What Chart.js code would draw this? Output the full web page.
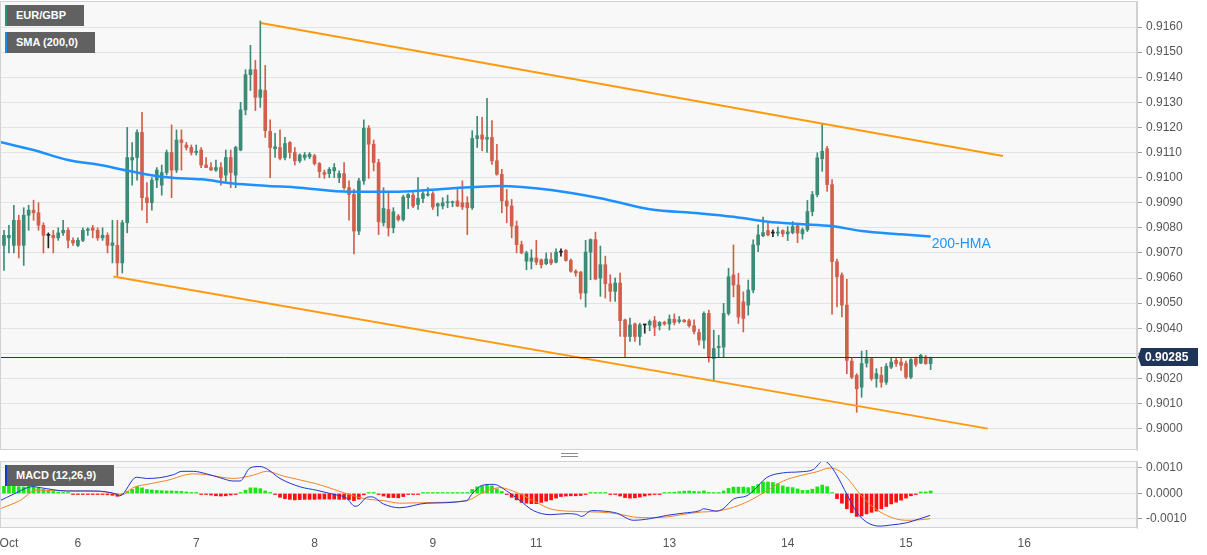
<!DOCTYPE html>
<html><head><meta charset="utf-8">
<script src="https://cdn.jsdelivr.net/npm/chart.js@4.4.1/dist/chart.umd.min.js"></script>
<style>
html,body{margin:0;padding:0;background:#fff;width:1207px;height:555px;overflow:hidden;font-family:"Liberation Sans",Arial,sans-serif;}
#mainBox{position:absolute;left:0;top:0;width:1207px;height:451px;}
#macdBox{position:absolute;left:0;top:456px;width:1207px;height:99px;}
.lab{position:absolute;left:5px;height:21px;line-height:21px;box-sizing:border-box;background:#616161;color:#fff;font-size:11px;font-weight:bold;padding-left:9px;white-space:nowrap;}
#sep{position:absolute;left:561px;top:453px;width:17px;height:2px;border-top:1px solid #8a8a8a;border-bottom:1px solid #8a8a8a;}
</style>
</head><body>
<div id="mainBox"><canvas id="main"></canvas></div>
<div id="macdBox"><canvas id="macd"></canvas></div>
<div id="sep"></div>
<div class="lab" style="top:5px;width:79px;border-left:2px solid #2f8f78;">EUR/GBP</div>
<div class="lab" style="top:32px;width:90px;border-left:2px solid #1e88e5;">SMA (200,0)</div>
<div class="lab" style="top:465px;width:109px;border-left:2px solid #1536c8;">MACD (12,26,9)</div>
<script>
// ---------- DATA ----------
const dayTickPos = [2,16,40,64,88,109,136,160,184,208];
const dayLabels  = ['Oct','6','7','8','9','11','13','14','15','16'];
const priceTicks = [0.9000,0.9010,0.9020,0.9030,0.9040,0.9050,0.9060,0.9070,0.9080,0.9090,0.9100,0.9110,0.9120,0.9130,0.9140,0.9150,0.9160];
const macdTicks  = [-0.0010,0.0000,0.0010];
const currentPrice = 0.90285;

const opens = [
0.9075,0.9073,0.9076,0.9073,0.9083,0.9073,0.9085,0.9087,0.9086,0.9081,
0.9077,0.9077,0.9076,0.9078,0.9079,0.9075,0.9073,0.9075,0.9079,0.9080,
0.9079,0.9076,0.9077,0.9073,0.9073,0.9066,0.9082,0.9107,0.9108,0.9118,
0.9092,0.9090,0.9099,0.9097,0.9102,0.9110,0.9103,0.9115,0.9113,0.9112,
0.9110,0.9111,0.9105,0.9104,0.9103,0.9104,0.9101,0.9108,0.9101,0.9111,
0.9127,0.9141,0.9143,0.9132,0.91347,0.91184,0.91115,0.9112,0.9108,0.9114,
0.9110,0.91067,0.9108,0.91083,0.91087,0.91056,0.9102,0.91016,0.91027,0.9100,
0.91016,0.9096,0.90933,0.90787,0.90987,0.91197,0.91133,0.9106,0.9082,0.90873,
0.9080,0.90847,0.90833,0.9092,0.9093,0.90893,0.90917,0.9093,0.90936,0.90887,
0.90887,0.9090,0.9090,0.90907,0.9090,0.9090,0.9088,0.91156,0.9117,0.91153,
0.9116,0.91067,0.91013,0.90907,0.90887,0.90807,0.90733,0.90667,0.90667,0.9068,
0.90673,0.90657,0.90673,0.90663,0.90703,0.9071,0.9067,0.90627,0.90623,0.9054,
0.90703,0.90753,0.9060,0.90653,0.90577,0.90547,0.9058,0.90433,0.90367,0.90417,
0.90367,0.90413,0.90413,0.9043,0.9041,0.90423,0.90417,0.90436,0.90427,0.90432,
0.9043,0.9041,0.90383,0.90352,0.90459,0.90279,0.90323,0.90325,0.90459,0.90612,
0.90572,0.90505,0.90492,0.90552,0.90732,0.90768,0.90789,0.90779,0.90779,0.90789,
0.90776,0.90781,0.90808,0.90776,0.90792,0.90865,0.90932,0.91075,0.91115,0.90972,
0.90665,0.90612,0.90492,0.90269,0.90212,0.90165,0.90261,0.90279,0.90199,0.90212,
0.90185,0.90245,0.90272,0.90265,0.90259,0.90205,0.90279,0.90261,0.90285,0.90259];

const highs = [
0.9077,0.9079,0.9081,0.9089,0.9085,0.9088,0.9089,0.9091,0.9090,0.9082,
0.9078,0.9079,0.9080,0.9083,0.9080,0.9076,0.9076,0.9080,0.9080,0.9081,
0.9080,0.9080,0.9078,0.9083,0.9083,0.9083,0.9120,0.9114,0.9119,0.9126,
0.9098,0.9100,0.9104,0.9105,0.9111,0.9121,0.9119,0.9119,0.9114,0.9113,
0.9113,0.9112,0.9108,0.9106,0.9107,0.9106,0.9111,0.9111,0.91125,0.9130,
0.9143,0.91527,0.91467,0.91624,0.91447,0.9123,0.91176,0.9119,0.9116,0.91144,
0.9112,0.91095,0.9110,0.9110,0.91093,0.9106,0.9103,0.9104,0.91056,0.91027,
0.9106,0.90987,0.90953,0.90997,0.9123,0.91207,0.9115,0.91073,0.9096,0.90944,
0.9088,0.90853,0.9093,0.90936,0.9094,0.9100,0.90944,0.9096,0.90944,0.90899,
0.9092,0.9093,0.90907,0.90953,0.90987,0.90924,0.91187,0.91244,0.9124,0.91316,
0.91227,0.91133,0.91033,0.90953,0.90913,0.90827,0.90747,0.90707,0.90713,0.9075,
0.90676,0.9070,0.9070,0.90716,0.90716,0.90713,0.90676,0.90633,0.90627,0.9075,
0.90756,0.90783,0.90727,0.90687,0.90613,0.9060,0.9062,0.90436,0.9044,0.9042,
0.9042,0.90416,0.90433,0.90447,0.90427,0.90428,0.90453,0.90457,0.90447,0.90435,
0.90436,0.90433,0.90396,0.90465,0.90472,0.90392,0.90372,0.90499,0.90639,0.90732,
0.90619,0.90545,0.90592,0.90752,0.90812,0.90843,0.90819,0.90792,0.90803,0.90792,
0.90805,0.90825,0.90812,0.90799,0.90909,0.90945,0.91099,0.91216,0.91125,0.90992,
0.90675,0.90621,0.90595,0.90283,0.90219,0.90309,0.90312,0.90283,0.90239,0.90245,
0.90259,0.90283,0.90283,0.90279,0.90269,0.90279,0.90285,0.90296,0.90292,0.90285];

const lows = [
0.9058,0.9063,0.9070,0.9070,0.9068,0.9065,0.9079,0.9083,0.9079,0.9070,
0.9072,0.9070,0.9075,0.9077,0.9072,0.9073,0.90725,0.90745,0.9077,0.9076,
0.9075,0.9075,0.9070,0.9066,0.9061,0.9062,0.9078,0.9097,0.9099,0.9087,
0.9082,0.9087,0.9096,0.9093,0.9101,0.9092,0.9102,0.9103,0.9111,0.9109,
0.9109,0.9104,0.9104,0.9103,0.91025,0.9097,0.9098,0.9096,0.9096,0.91107,
0.9125,0.91347,0.91267,0.9128,0.9116,0.9100,0.9108,0.9107,0.9107,0.91077,
0.9105,0.9106,0.9107,0.91075,0.9105,0.9100,0.90997,0.9100,0.9100,0.9098,
0.90953,0.9083,0.90696,0.90773,0.90973,0.90997,0.91027,0.90773,0.90807,0.90767,
0.9078,0.90827,0.90827,0.90876,0.9088,0.90873,0.9090,0.90926,0.90873,0.90847,
0.90875,0.9088,0.90884,0.90884,0.90873,0.90773,0.90873,0.9112,0.91107,0.9110,
0.91053,0.9101,0.9086,0.9082,0.9076,0.9070,0.90697,0.90633,0.90636,0.90653,
0.9064,0.90653,0.90653,0.9066,0.90687,0.90667,0.90623,0.90607,0.90516,0.90484,
0.90593,0.90593,0.90527,0.9052,0.90507,0.90507,0.90367,0.90287,0.90347,0.90347,
0.90333,0.9038,0.9039,0.9037,0.90393,0.90412,0.90393,0.90413,0.9042,0.90423,
0.90404,0.90377,0.90333,0.90319,0.90265,0.90192,0.90285,0.90285,0.90452,0.90525,
0.90419,0.90385,0.90452,0.90541,0.90705,0.90765,0.90768,0.90765,0.90768,0.90765,
0.90749,0.90776,0.90741,0.90755,0.90785,0.90848,0.90923,0.91025,0.90945,0.90456,
0.90485,0.90445,0.90219,0.90199,0.90065,0.90125,0.90245,0.90192,0.90165,0.90165,
0.90176,0.90239,0.90248,0.90232,0.90199,0.90199,0.90248,0.90259,0.90256,0.90235];

const closes = [
0.9070,0.9077,0.9077,0.9083,0.9073,0.9085,0.9087,0.9086,0.9081,0.9077,
0.9077,0.9076,0.9078,0.9079,0.9075,0.9074,0.9075,0.9079,0.90795,0.9079,
0.9076,0.9077,0.9073,0.9074,0.9066,0.9082,0.9108,0.9108,0.9118,0.9092,
0.9090,0.9099,0.9103,0.9102,0.9110,0.9103,0.9115,0.9114,0.9112,0.9110,
0.91105,0.9105,0.9104,0.9103,0.9104,0.9100,0.9108,0.9102,0.9112,0.9127,
0.9141,0.9143,0.9132,0.9135,0.91187,0.9112,0.91123,0.91077,0.91136,0.9110,
0.91067,0.9109,0.9109,0.91093,0.91056,0.91024,0.91013,0.91033,0.9104,0.91016,
0.9096,0.90933,0.90787,0.90987,0.91197,0.91133,0.9106,0.90824,0.90877,0.9080,
0.90864,0.90833,0.90923,0.90933,0.90887,0.90917,0.90936,0.90933,0.90883,0.90896,
0.9090,0.90901,0.90903,0.90887,0.90883,0.9088,0.91156,0.91167,0.91153,0.9116,
0.91067,0.91013,0.90907,0.90887,0.90807,0.90733,0.9070,0.9070,0.9068,0.90663,
0.90653,0.90676,0.9066,0.90703,0.90703,0.9067,0.90627,0.9062,0.9054,0.90703,
0.90753,0.90596,0.90653,0.90577,0.90547,0.9058,0.9043,0.90367,0.90413,0.90367,
0.90413,0.90413,0.90427,0.90404,0.90423,0.90417,0.90436,0.90423,0.90433,0.90426,
0.9041,0.90387,0.90353,0.90459,0.90285,0.90319,0.90328,0.90459,0.90605,0.90572,
0.90445,0.90439,0.90552,0.90732,0.90772,0.90781,0.90772,0.90779,0.90783,0.90776,
0.90784,0.90805,0.90779,0.90792,0.90865,0.90932,0.91079,0.91105,0.90972,0.90665,
0.90605,0.90492,0.90272,0.90205,0.90159,0.90259,0.90279,0.90199,0.90219,0.90185,
0.90248,0.90265,0.90259,0.90252,0.90205,0.90275,0.90256,0.90292,0.90259,0.90283];

// 200-HMA line, read at sample candles
const hmaIdx = [0,7,14,20.5,27,34,41,47.5,54,61,71,81,91.5,101.5,112,122,132,142,149,156,162.5,169,175,183,189];
const hmaVal = [0.91143,0.91110,0.91070,0.91050,0.91024,0.91001,0.90993,0.90977,0.90968,0.90960,0.90944,0.90944,0.90957,0.90967,0.90951,0.90918,0.90874,0.90858,0.90844,0.90824,0.90815,0.90807,0.90787,0.90774,0.90765];

// channel lines
const upperIdx = [53.1,203.7];
const upperVal = [0.91616,0.91086];
const lowerIdx = [23.2,200.6];
const lowerVal = [0.90606,0.90000];

// MACD histogram (one per candle)
const histVals = [
0.00028,0.00028,0.00029,0.00028,0.00027,0.00026,0.00028,0.00027,0.00022,0.00016,
0.00013,0.00008,0.00005,0.00003,0.00001,-0.00002,-0.00004,-0.00002,-0.00001,-0.00002,
-0.00003,-0.00003,-0.00005,-0.00007,-0.00011,-0.00003,0.00008,0.00016,0.00028,0.00022,
0.00016,0.00014,0.00012,0.00011,0.00010,0.00010,0.00009,0.00008,0.00006,0.00004,
0.00002,-0.00001,-0.00003,-0.00006,-0.00009,-0.00010,-0.00009,-0.00006,-0.00002,0.00004,
0.00013,0.00022,0.00022,0.00019,0.00010,0.00002,-0.00003,-0.00015,-0.00020,-0.00023,
-0.00025,-0.00024,-0.00023,-0.00023,-0.00023,-0.00022,-0.00022,-0.00022,-0.00022,-0.00023,
-0.00023,-0.00024,-0.00028,-0.00022,-0.00005,0.00003,0.00003,-0.00003,-0.00010,-0.00016,
-0.00016,-0.00017,-0.00012,-0.00003,-0.00003,-0.00002,0.00001,0.00002,0.00002,0.00002,
0.00002,0.00002,0.00002,0.00002,0.00002,0.00003,0.00016,0.00026,0.00030,0.00035,
0.00030,0.00018,0.00008,-0.00003,-0.00015,-0.00025,-0.00035,-0.00038,-0.00040,-0.00040,
-0.00035,-0.00030,-0.00025,-0.00018,-0.00012,-0.00010,-0.00009,-0.00009,-0.00008,-0.00001,
0.00004,0.00003,0.00001,0.000005,-0.00001,-0.00002,-0.00010,-0.00016,-0.00018,-0.00017,
-0.00014,-0.00010,-0.00006,-0.00003,-0.00001,0.00001,0.00003,0.00005,0.00007,0.00009,
0.00010,0.00008,0.00007,0.00010,0.00004,0.00002,0.00001,0.00010,0.00020,0.00025,
0.00025,0.00025,0.00023,0.00028,0.00035,0.00045,0.00045,0.00043,0.00038,0.00030,
0.00025,0.00023,0.00018,0.00012,0.00012,0.00017,0.00026,0.00033,0.00027,0.00001,
-0.00020,-0.00038,-0.00060,-0.00075,-0.00090,-0.00088,-0.00080,-0.00074,-0.00069,-0.00060,
-0.00051,-0.00041,-0.00034,-0.00026,-0.00018,-0.00009,-0.00002,0.00006,0.00006,0.00010];

// MACD line (blue) and signal (orange), read at sample candles
const macdIdx = [0.2,2.9,6.9,8.3,13.7,19.1,23.9,24.5,27.9,29.9,32.6,35.4,37.1,39.4,42.1,44.8,47.5,48.9,50.9,52.9,54.3,57,61.1,64.4,67.8,70.5,72.2,72.9,74.6,75.6,78,81.3,86.8,94.9,95.9,98.2,100.3,103,105.7,108.4,111.8,115.2,117.2,118.2,120.2,122.6,125.3,128.7,132,135.4,138.8,142.2,142.9,145.6,146.9,149,151.7,153,155.7,159.1,162.5,165.2,167.2,168.2,169.9,172,174,176,178.7,180.8,184.1,186.8,188.9];
const macdVal = [-0.00028,-0.00003,0.00027,0.00023,0.00010,0.00010,-0.00003,-0.00009,0.00064,0.00059,0.00062,0.00074,0.00087,0.00087,0.00077,0.00062,0.00049,0.00049,0.00100,0.00106,0.00097,0.00059,0.00026,0.00013,-0.00003,-0.00018,-0.00050,-0.00047,-0.00015,-0.00013,-0.00041,-0.00056,-0.00038,-0.00028,-0.00003,0.00033,0.00036,0.00010,-0.00028,-0.00067,-0.00083,-0.00079,-0.00082,-0.00090,-0.00067,-0.00069,-0.00077,-0.00105,-0.00099,-0.00086,-0.00077,-0.00067,-0.00060,-0.00069,-0.00060,-0.00022,-0.00009,0.00010,0.00062,0.00081,0.00085,0.00094,0.00128,0.00119,0.00074,-0.00003,-0.00073,-0.00112,-0.00128,-0.00124,-0.00115,-0.00099,-0.00086];
const sigIdx = [0.2,4.2,7.6,13.7,20.5,23.9,24.9,27.2,30.6,34,39.4,42.1,47.5,51.6,54.3,57.7,64.4,67.8,71.2,74.6,78,81.3,88.1,94.9,98.2,101.6,105,108.4,111.8,115.2,121.9,125.3,128.7,132,135.4,138.8,142.2,145.6,149,152.3,155.7,159.1,162.5,165.9,168.6,170.6,172.6,174.7,177.4,180.1,182.8,184.8,186.8,188.9];
const sigVal = [-0.00060,-0.00028,0.00013,0.00010,0.00008,-0.00003,-0.00005,0.00023,0.00038,0.00051,0.00077,0.00074,0.00059,0.00072,0.00087,0.00068,0.00038,0.00017,-0.00005,-0.00022,-0.00028,-0.00038,-0.00035,-0.00028,0.00004,0.00023,0.00004,-0.00028,-0.00060,-0.00069,-0.00073,-0.00079,-0.00092,-0.00095,-0.00092,-0.00082,-0.00073,-0.00069,-0.00054,-0.00028,0.00010,0.00049,0.00070,0.00085,0.00100,0.00087,0.00049,-0.00003,-0.00054,-0.00086,-0.00103,-0.00105,-0.00103,-0.00099];

// ---------- STYLE ----------
const X_MIN = 0.189, X_MAX = 230.87;
const GREEN = '#3b8c76', RED = '#d0604b', DOJI = '#222222';
const FONT = '"Liberation Sans", Arial, sans-serif';
Chart.defaults.font.family = FONT;

const candleColor = opens.map((o,i) => closes[i] > o ? GREEN : (closes[i] < o ? RED : DOJI));
const bodies = opens.map((o,i) => ({x:i, y:[o, closes[i]]}));
const wicks  = lows.map((l,i) => ({x:i, y:[l, highs[i]]}));
const toXY = (xs, ys) => xs.map((x,i) => ({x, y: ys[i]}));

const panelPlugin = {
  id:'panel',
  beforeDraw(chart){
    const {ctx, chartArea:a} = chart;
    ctx.save(); ctx.fillStyle = '#f8f8f8';
    ctx.fillRect(a.left, a.top, a.right-a.left, a.bottom-a.top); ctx.restore();
  },
  afterDraw(chart){
    const {ctx, chartArea:a} = chart;
    ctx.save(); ctx.strokeStyle = '#d2d2d2'; ctx.lineWidth = 1;
    ctx.strokeRect(a.left+0.5, a.top+0.5, a.right-a.left-1, a.bottom-a.top-1); ctx.restore();
  }
};

const priceLinePlugin = {
  id:'priceLine',
  afterDatasetsDraw(chart){
    const {ctx, chartArea:a, scales} = chart;
    const y = Math.round(scales.y.getPixelForValue(currentPrice)) + 0.5;
    ctx.save(); ctx.strokeStyle = '#24395c'; ctx.lineWidth = 1;
    ctx.beginPath(); ctx.moveTo(a.left, y); ctx.lineTo(a.right, y); ctx.stroke();
    const lx = scales.x.getPixelForValue(hmaIdx[hmaIdx.length-1]);
    const ly = scales.y.getPixelForValue(hmaVal[hmaVal.length-1]);
    ctx.fillStyle = '#2196f3'; ctx.font = '14px ' + FONT; ctx.textBaseline = 'middle'; ctx.textAlign='left';
    ctx.fillText('200-HMA', lx + 1, ly + 8);
    ctx.restore();
  },
  afterDraw(chart){
    const {ctx, chartArea:a, scales} = chart;
    const y = Math.round(scales.y.getPixelForValue(currentPrice));
    ctx.save();
    ctx.fillStyle = '#1f3558';
    ctx.beginPath();
    ctx.moveTo(a.right+1, y); ctx.lineTo(a.right+4, y-9); ctx.lineTo(a.right+61, y-9);
    ctx.lineTo(a.right+61, y+9); ctx.lineTo(a.right+4, y+9); ctx.closePath(); ctx.fill();
    ctx.fillStyle = '#fff'; ctx.font = 'bold 12px ' + FONT; ctx.textBaseline = 'middle'; ctx.textAlign = 'left';
    ctx.fillText(currentPrice.toFixed(5), a.right+8, y+0.5);
    ctx.restore();
  }
};

const fitY = s => { s.width = 70; s.paddingTop = 0; s.paddingBottom = 0; };

new Chart(document.getElementById('main'), {
  type:'bar',
  data:{ datasets:[
    {type:'line', data:toXY(upperIdx, upperVal), borderColor:'#ff9a0e', borderWidth:2, pointRadius:0, order:0},
    {type:'line', data:toXY(lowerIdx, lowerVal), borderColor:'#ff9a0e', borderWidth:2, pointRadius:0, order:0},
    {type:'line', data:toXY(hmaIdx, hmaVal), borderColor:'#1e90ff', borderWidth:2.5, pointRadius:0, cubicInterpolationMode:'monotone', order:1},
    {data:bodies, backgroundColor:candleColor, barThickness:3, minBarLength:1, grouped:false, order:2},
    {data:wicks, backgroundColor:candleColor, barThickness:1, grouped:false, order:3}
  ]},
  options:{
    responsive:true, maintainAspectRatio:false, animation:false, devicePixelRatio:1,
    layout:{padding:{left:0,right:0,top:1,bottom:1}},
    plugins:{legend:{display:false}, tooltip:{enabled:false}},
    scales:{
      x:{type:'linear', min:X_MIN, max:X_MAX, offset:false, display:false, grid:{display:false}},
      y:{type:'linear', position:'right', min:0.899148, max:0.917036,
         afterBuildTicks:s=>{ s.ticks = priceTicks.map(v=>({value:v})); },
         afterFit:fitY,
         ticks:{callback:v=>Number(v).toFixed(4), color:'#555', font:{size:12}, padding:4},
         grid:{color:'#e3e3e3', tickLength:5, tickColor:'#9a9a9a'},
         border:{display:true, color:'#cfcfcf'}}
    }
  },
  plugins:[panelPlugin, priceLinePlugin]
});

new Chart(document.getElementById('macd'), {
  type:'bar',
  data:{ datasets:[
    {type:'line', data:toXY(macdIdx, macdVal), borderColor:'#2436d0', borderWidth:1, pointRadius:0, cubicInterpolationMode:'monotone', order:0},
    {type:'line', data:toXY(sigIdx, sigVal), borderColor:'#f0862a', borderWidth:1, pointRadius:0, cubicInterpolationMode:'monotone', order:1},
    {data:histVals.map((v,i)=>({x:i, y:v})), backgroundColor:histVals.map(v=>v>=0?'#19e619':'#ff1010'), barThickness:3, minBarLength:1, grouped:false, order:2}
  ]},
  options:{
    responsive:true, maintainAspectRatio:false, animation:false, devicePixelRatio:1,
    layout:{padding:{left:0,right:0,top:5,bottom:0}},
    plugins:{legend:{display:false}, tooltip:{enabled:false}},
    scales:{
      x:{type:'linear', min:X_MIN, max:X_MAX, offset:false,
         afterBuildTicks:s=>{ s.ticks = dayTickPos.map(v=>({value:v})); },
         afterFit:s=>{ s.height = 27; s.paddingLeft = 0; s.paddingRight = 0; },
         ticks:{callback:(v,i)=>dayLabels[i], autoSkip:false, maxRotation:0, color:'#555', font:{size:12}, padding:8},
         grid:{display:false, drawTicks:false},
         border:{display:false}},
      y:{type:'linear', position:'right', min:-0.001353, max:0.0012745,
         afterBuildTicks:s=>{ s.ticks = macdTicks.map(v=>({value:v})); },
         afterFit:fitY,
         ticks:{callback:v=>Number(v).toFixed(4), color:'#555', font:{size:12}, padding:4},
         grid:{color:'#e3e3e3', tickLength:5, tickColor:'#9a9a9a'},
         border:{display:true, color:'#cfcfcf'}}
    }
  },
  plugins:[panelPlugin]
});
</script>
</body></html>
